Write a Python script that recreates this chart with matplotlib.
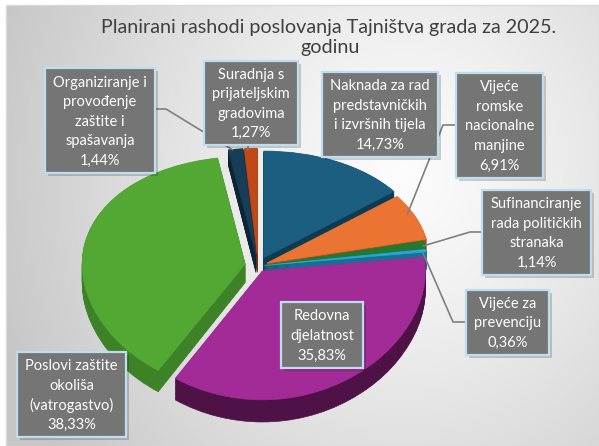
import numpy as np
import matplotlib
matplotlib.use('Agg')
import matplotlib.pyplot as plt
from matplotlib.patches import Rectangle

# ---------------- data ----------------
categories = [
    "Naknada za rad\npredstavničkih\ni izvršnih tijela",
    "Vijeće\nromske\nnacionalne\nmanjine",
    "Sufinanciranje\nrada političkih\nstranaka",
    "Vijeće za\nprevenciju",
    "Redovna\ndjelatnost",
    "Poslovi zaštite\nokoliša\n(vatrogastvo)",
    "Organiziranje i\nprovođenje\nzaštite i\nspašavanja",
    "Suradnja s\nprijateljskim\ngradovima",
]
values = [14.73, 6.91, 1.14, 0.36, 35.83, 38.33, 1.44, 1.27]
title_lines = ["Planirani rashodi poslovanja Tajništva grada za 2025.", "godinu"]

top_colors = ['#1C5E80', '#EB7433', '#217A32', '#2AA5DA', '#A22B97', '#52A833', '#173E56', '#BF4A17']
side_colors = ['#0F3B52', '#A5501F', '#13501E', '#1B6F94', '#4E1247', '#3D8227', '#0B2535', '#7D2F0E']
explode = [0.08, 0.06, 0.04, 0.04, 0.05, 0.08, 0.10, 0.10]

W, H = 599, 446
fig = plt.figure(figsize=(W / 100, H / 100), dpi=100)

# ---------------- background ----------------
bg = fig.add_axes([0, 0, 1, 1], zorder=0)
bg.set_xlim(0, W)
bg.set_ylim(H, 0)
bg.axis('off')
yy, xx = np.mgrid[0:H, 0:W]
d = np.hypot((xx - 400) / 1.0, (yy - 170) / 1.1)
t = np.clip(d / 430, 0, 1)
g = 0.99 - 0.21 * t ** 1.2
img = np.dstack([g, g, g])
bg.imshow(img, extent=(6, W, H, 5), origin='upper', aspect='auto', zorder=0)
bg.add_patch(Rectangle((6, 5), W - 6.5, H - 5.5, fill=False, edgecolor='#D9D9D9', lw=1, zorder=1))

# ---------------- pie (perspective) ----------------
cx, cy, rx, ry, c = 258, 266, 163, 117, 0.085


def fwd(y):
    y = np.asarray(y, dtype=float)
    return y / (1 + c * y)


def inv(u):
    u = np.asarray(u, dtype=float)
    return u / (1 - c * u)


pa = fig.add_axes([(cx - 1.6 * rx) / W, (H - (cy + 1.6 * ry)) / H, 3.2 * rx / W, 3.2 * ry / H], zorder=1)
depth = 0.155


def draw_layer(colors, off):
    wedges, _ = pa.pie(values, colors=colors, startangle=90, counterclock=False, explode=explode,
                       center=(0, -off), radius=1, wedgeprops=dict(linewidth=0.5))
    for w in wedges:
        w.set_edgecolor(w.get_facecolor())


for off in np.linspace(depth, 0.005, 18):
    draw_layer(side_colors, off)
draw_layer(top_colors, 0.0)

pa.set_yscale('function', functions=(fwd, inv))
pa.set_aspect('auto')
pa.set_xlim(-1.6, 1.6)
pa.set_ylim(float(inv(-1.6)), float(inv(1.6)))
pa.axis('off')
pa.patch.set_alpha(0)

# ---------------- overlay: title, boxes, leader lines ----------------
ov = fig.add_axes([0, 0, 1, 1], zorder=2)
ov.set_xlim(0, W)
ov.set_ylim(H, 0)
ov.axis('off')
ov.patch.set_alpha(0)

FONT = ['Lato', 'DejaVu Sans']
ov.text(329, 27, title_lines[0], ha='center', va='center', fontsize=14.2, color='#404040', family=FONT)
ov.text(330, 47, title_lines[1], ha='center', va='center', fontsize=14.2, color='#404040', family=FONT)

boxes = [
    (322, 72, 438, 157),
    (456, 73, 543, 178),
    (482, 190, 591, 275),
    (466, 290, 549, 355),
    (281, 302, 363, 368),
    (17, 352, 126, 437),
    (45, 68, 155, 173),
    (204, 61, 298, 145),
]
leaders = [
    None,
    [(456, 125), (443, 125), (407, 215)],
    [(482, 232), (470, 232), (423, 246)],
    [(466, 322), (453, 322), (423, 253)],
    None,
    None,
    [(155, 109), (166, 109), (233, 150)],
    [(248, 145), (248, 150)],
]

for pts in leaders:
    if pts:
        xs, ys = zip(*pts)
        ov.plot(xs, ys, color='#7F7F7F', lw=1.2, zorder=3, solid_capstyle='butt')

pitch = 19.5
for cat, v, (x0, y0, x1, y1) in zip(categories, values, boxes):
    ov.add_patch(Rectangle((x0 + 3, y0 + 3), x1 - x0, y1 - y0, facecolor='black', alpha=0.18, lw=0, zorder=4))
    ov.add_patch(Rectangle((x0, y0), x1 - x0, y1 - y0, facecolor='#757575', edgecolor='#BFDDF0', lw=1.6, zorder=5))
    lines = cat.split('\n') + [f"{v:.2f}".replace('.', ',') + '%']
    n = len(lines)
    ymid = (y0 + y1) / 2 + 1
    for i, ln in enumerate(lines):
        yl = ymid + (i - (n - 1) / 2) * pitch
        ov.text((x0 + x1) / 2, yl, ln, ha='center', va='center', fontsize=10.5, color='white',
                family=FONT, zorder=6)

fig.savefig('out.png', dpi=100)
